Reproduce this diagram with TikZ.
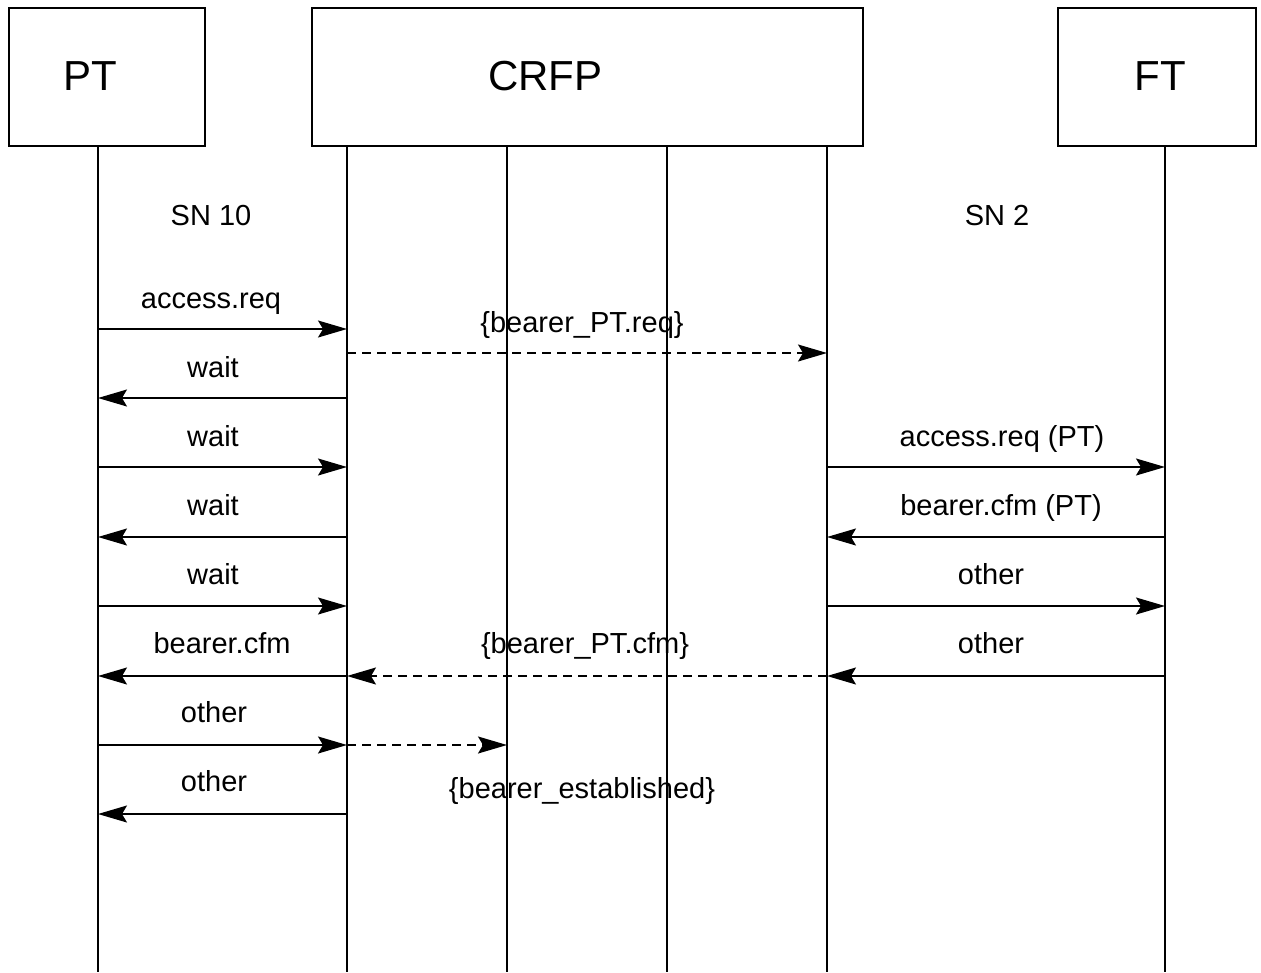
\documentclass[tikz,border=0pt]{standalone}
\usepackage{fontspec}
\setmainfont{Liberation Sans}
\usetikzlibrary{arrows.meta}
\begin{document}
\begin{tikzpicture}[x=1pt,y=-1pt,
  ent/.style={draw,line width=1.6pt,minimum height=138pt,inner sep=0pt},
  ttl/.style={font=\fontsize{42}{46}\selectfont,inner sep=0pt,anchor=base},
  life/.style={line width=1.6pt},
  msg/.style={line width=1.6pt,-{Stealth[length=29pt,width=17pt,inset=5pt]}},
  dmsg/.style={msg,dash pattern=on 9pt off 6pt},
  lbl/.style={font=\fontsize{29}{32}\selectfont,inner sep=0pt,anchor=base}]
\useasboundingbox (0,0) rectangle (1261,972);
\node[ent,minimum width=196pt] (pt) at (107,77) {};
\node[ent,minimum width=551pt] (crfp) at (587.5,77) {};
\node[ent,minimum width=198pt] (ft) at (1157,77) {};
\node[ttl] (ptt) at (90,90) {PT};
\node[ttl] (crfpt) at (545.5,90) {CRFP};
\node[ttl] (ftt) at (1160.5,90) {FT};
% lifelines
\coordinate (l1) at (98,146);
\coordinate (l2) at (347,146);
\coordinate (l3) at (507,146);
\coordinate (l4) at (667,146);
\coordinate (l5) at (827,146);
\coordinate (l6) at (1165,146);
\foreach \c in {l1,l2,l3,l4,l5,l6} \draw[life] (\c) -- (\c |- 0,972);
% labels
\node[lbl] (sn10) at (211,225) {SN 10};
\node[lbl] (sn2) at (997,225) {SN 2};
% messages
\draw[msg] (l1 |- 0,329) -- (l2 |- 0,329);
\node[lbl] (m1) at (211,308) {access.req};
\draw[dmsg] (l2 |- 0,353) -- (l5 |- 0,353);
\node[lbl] (m2) at (582,332) {\{bearer\_PT.req\}};
\draw[msg] (l2 |- 0,398) -- (l1 |- 0,398);
\node[lbl] (m3) at (213,377) {wait};
\draw[msg] (l1 |- 0,467) -- (l2 |- 0,467);
\node[lbl] (m4) at (213,446) {wait};
\draw[msg] (l5 |- 0,467) -- (l6 |- 0,467);
\node[lbl] (m5) at (1002,446) {access.req (PT)};
\draw[msg] (l2 |- 0,537) -- (l1 |- 0,537);
\node[lbl] (m6) at (213,515) {wait};
\draw[msg] (l6 |- 0,537) -- (l5 |- 0,537);
\node[lbl] (m7) at (1001,515) {bearer.cfm (PT)};
\draw[msg] (l1 |- 0,606) -- (l2 |- 0,606);
\node[lbl] (m8) at (213,584) {wait};
\draw[msg] (l5 |- 0,606) -- (l6 |- 0,606);
\node[lbl] (m9) at (991,584) {other};
\draw[msg] (l2 |- 0,676) -- (l1 |- 0,676);
\node[lbl] (m10) at (222,653) {bearer.cfm};
\draw[dmsg] (l5 |- 0,676) -- (l2 |- 0,676);
\node[lbl] (m11) at (585,653) {\{bearer\_PT.cfm\}};
\draw[msg] (l6 |- 0,676) -- (l5 |- 0,676);
\node[lbl] (m12) at (991,653) {other};
\draw[msg] (l1 |- 0,745) -- (l2 |- 0,745);
\node[lbl] (m13) at (214,722) {other};
\draw[dmsg] (l2 |- 0,745) -- (l3 |- 0,745);
\node[lbl] (m14) at (582,798) {\{bearer\_established\}};
\draw[msg] (l2 |- 0,814) -- (l1 |- 0,814);
\node[lbl] (m15) at (214,791) {other};
\end{tikzpicture}
\end{document}
